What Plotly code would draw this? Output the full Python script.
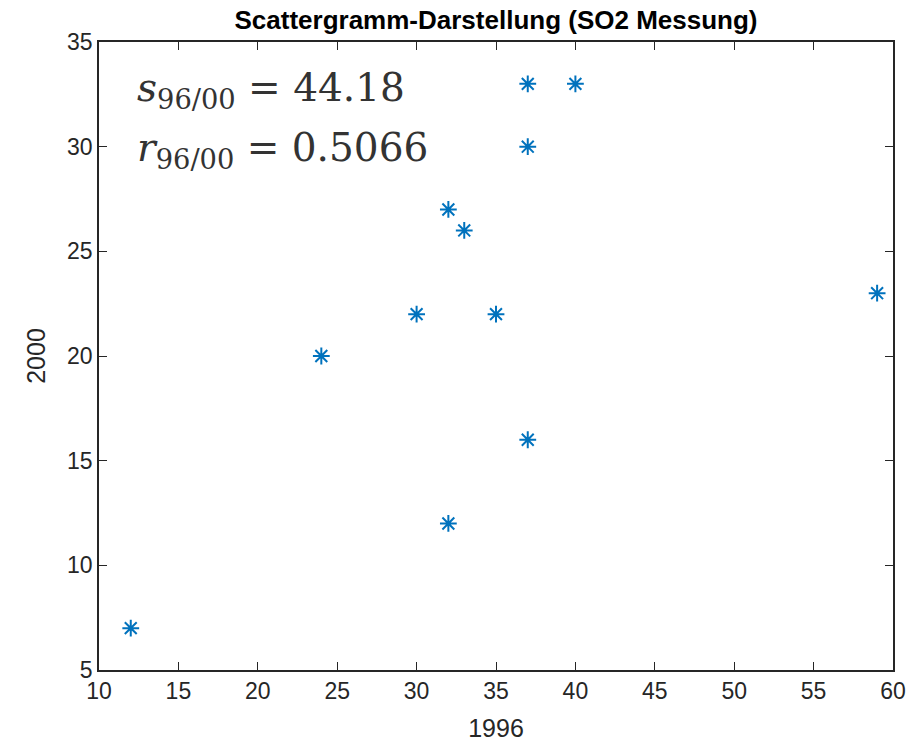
import plotly.graph_objects as go

x_1996 = [12, 24, 30, 32, 33, 35, 37, 37, 37, 32, 40, 59]
y_2000 = [7, 20, 22, 27, 26, 22, 33, 30, 16, 12, 33, 23]
x_ticks = [10, 15, 20, 25, 30, 35, 40, 45, 50, 55, 60]
y_ticks = [5, 10, 15, 20, 25, 30, 35]
stat_lines = ["<i>s</i><sub>96/00</sub> = 44.18", "<i>r</i><sub>96/00</sub> = 0.5066"]

fig = go.Figure()
fig.add_trace(go.Scatter(
    x=x_1996, y=y_2000, mode="markers",
    marker=dict(symbol="asterisk-open", size=14, color="#0072BD",
                line=dict(color="#0072BD", width=2)),
    showlegend=False))

axis_common = dict(showgrid=False, zeroline=False, showline=True, mirror="ticks",
                   linecolor="#262626", linewidth=1.5, ticks="inside", ticklen=8,
                   tickcolor="#262626", tickwidth=1, automargin=False,
                   tickfont=dict(family="Liberation Sans, Arial", size=23, color="#262626"))

fig.update_xaxes(range=[10, 60], tickvals=x_ticks,
                 title=dict(text="1996", font=dict(family="Liberation Sans, Arial", size=25, color="#262626"), standoff=18),
                 **axis_common)
fig.update_yaxes(range=[5, 35], tickvals=y_ticks,
                 title=dict(text="2000", font=dict(family="Liberation Sans, Arial", size=25, color="#262626"), standoff=14),
                 **axis_common)

for txt, yp in zip(stat_lines, [0.9236, 0.828]):
    fig.add_annotation(
        xref="paper", yref="paper", x=0.045, y=yp, xanchor="left", yanchor="middle",
        align="left", showarrow=False, text=txt,
        font=dict(family="DejaVu Serif, Liberation Serif, serif", size=39, color="#333333"))

fig.update_layout(
    width=912, height=742,
    margin=dict(l=99, r=19, t=42, b=72),
    plot_bgcolor="white", paper_bgcolor="white",
    title=dict(text="<b>Scattergramm-Darstellung (SO2 Messung)</b>", x=0.5, xref="paper",
               y=1 - 20/742, yanchor="middle",
               font=dict(family="Liberation Sans, Arial", size=26, color="black")),
)

fig.write_html("out.html")
